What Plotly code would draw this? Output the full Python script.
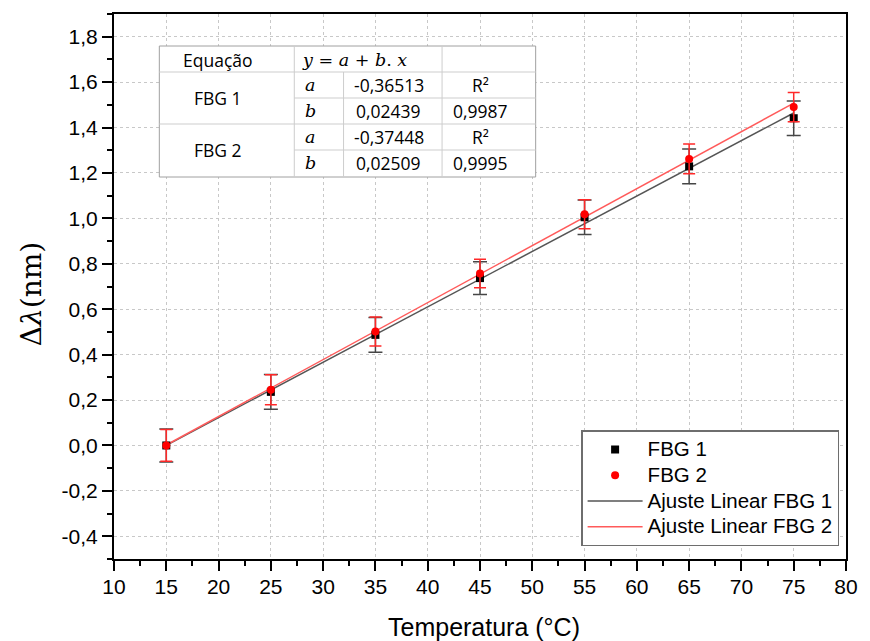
import plotly.graph_objects as go

# Temperature steps (°C)
temperatura = [15, 25, 35, 45, 55, 65, 75]

# Wavelength shift (nm) and uncertainty for each grating
fbg1_dl = [0.000, 0.236, 0.487, 0.737, 1.005, 1.229, 1.441]
fbg1_err = [0.073, 0.077, 0.077, 0.072, 0.076, 0.076, 0.076]
fbg2_dl = [0.000, 0.245, 0.502, 0.757, 1.018, 1.262, 1.490]
fbg2_err = [0.070, 0.066, 0.064, 0.063, 0.064, 0.065, 0.064]

# Linear fit coefficients y = a + b.x and R²
fit_a = {"FBG 1": -0.36513, "FBG 2": -0.37448}
fit_b = {"FBG 1": 0.02439, "FBG 2": 0.02509}
fit_r2 = {"FBG 1": 0.9987, "FBG 2": 0.9995}

x_ticks = list(range(10, 81, 5))
y_ticks = [round(-0.4 + 0.2 * i, 1) for i in range(12)]

W, H = 870, 641
ML, MR, MT, MB = 114, 13, 14, 82
PW, PH = W - ML - MR, H - MT - MB


def px_x(px):
    return (px - ML) / PW


def px_y(py):
    return (H - MB - py) / PH


def fmt(v, nd):
    return f"{v:.{nd}f}".replace(".", ",")


def legend_label(text):
    # larger glyphs than the legend's base font keep rows compact
    return f'<span style="font-size:20.5px">{text}</span>'


fig = go.Figure()

# Fitted lines
for name, color in [("FBG 1", "rgb(85,85,85)"), ("FBG 2", "rgb(255,90,90)")]:
    xs = [temperatura[0], temperatura[-1]]
    ys = [fit_a[name] + fit_b[name] * x for x in xs]
    fig.add_trace(go.Scatter(
        x=xs, y=ys, mode="lines", name=legend_label(f"Ajuste Linear {name}"),
        line=dict(color=color, width=1.5),
        legendrank=3 if name == "FBG 1" else 4,
    ))

# Measured points with error bars
fig.add_trace(go.Scatter(
    x=temperatura, y=fbg1_dl, mode="markers", name=legend_label("FBG 1"),
    marker=dict(symbol="square", size=8, color="black"),
    error_y=dict(type="data", array=fbg1_err, visible=True,
                 color="rgb(70,70,70)", thickness=1.5, width=7),
    legendrank=1,
))
fig.add_trace(go.Scatter(
    x=temperatura, y=fbg2_dl, mode="markers", name=legend_label("FBG 2"),
    marker=dict(symbol="circle", size=8, color="red"),
    error_y=dict(type="data", array=fbg2_err, visible=True,
                 color="rgb(255,40,40)", thickness=1.5, width=6),
    legendrank=2,
))

axis_common = dict(
    showline=True, linecolor="black", linewidth=2, mirror=True,
    ticks="outside", ticklen=10, tickwidth=1.5, tickcolor="black",
    showgrid=True, gridcolor="rgb(200,200,200)", griddash="dot", gridwidth=1,
    zeroline=False,
    tickfont=dict(family="Liberation Sans", size=21, color="black"),
)

fig.update_xaxes(
    range=[10, 80], tickmode="array", tickvals=x_ticks,
    ticktext=[str(v) for v in x_ticks],
    minor=dict(ticks="outside", ticklen=5, tickwidth=1.5, tickcolor="black",
               dtick=2.5, tick0=10, showgrid=False),
    ticklabelstandoff=-2,
    **axis_common,
)
fig.update_yaxes(
    range=[-0.5, 1.9], tickmode="array", tickvals=y_ticks,
    ticktext=[fmt(v, 1) for v in y_ticks],
    minor=dict(ticks="outside", ticklen=5, tickwidth=1.5, tickcolor="black",
               dtick=0.1, tick0=0, showgrid=False),
    **axis_common,
)

# Coefficient table
shapes = []
t_left, t_right, t_top, t_bot = 160, 542, 46, 177
cols = [297, 347, 447]
shapes.append(dict(type="rect", xref="paper", yref="paper",
                   x0=px_x(t_left), x1=px_x(t_right), y0=px_y(t_bot), y1=px_y(t_top),
                   fillcolor="white", line=dict(color="rgb(160,160,160)", width=1),
                   layer="above"))
inner = dict(color="rgb(205,205,205)", width=1)
shapes.append(dict(type="line", xref="paper", yref="paper",
                   x0=px_x(cols[0]), x1=px_x(cols[0]), y0=px_y(t_bot), y1=px_y(t_top), line=inner))
shapes.append(dict(type="line", xref="paper", yref="paper",
                   x0=px_x(cols[1]), x1=px_x(cols[1]), y0=px_y(t_bot), y1=px_y(72), line=inner))
shapes.append(dict(type="line", xref="paper", yref="paper",
                   x0=px_x(cols[2]), x1=px_x(cols[2]), y0=px_y(t_bot), y1=px_y(t_top), line=inner))
for ry, x0 in [(72, t_left), (98, cols[0]), (124, t_left), (150, cols[0])]:
    shapes.append(dict(type="line", xref="paper", yref="paper",
                       x0=px_x(x0), x1=px_x(t_right), y0=px_y(ry), y1=px_y(ry), line=inner))

annotations = []
sans = dict(family="Open Sans", size=17.5, color="black")
serif_it = dict(family="DejaVu Serif", size=17.5, color="black")


def cell(px, py, text, font):
    annotations.append(dict(xref="paper", yref="paper", x=px_x(px), y=px_y(py),
                            text=text, showarrow=False, font=font,
                            xanchor="center", yanchor="middle"))


cell(220, 60, "Equação", sans)
cell(358, 60, "<i>y</i> = <i>a</i> + <i>b</i>. <i>x</i>", serif_it)
rows = [("FBG 1", 85, 111), ("FBG 2", 137, 163)]
for name, ya, yb in rows:
    cell(220, (ya + yb) / 2, name, sans)
    cell(313, ya, "<i>a</i>", serif_it)
    cell(313, yb, "<i>b</i>", serif_it)
    cell(393, ya, fmt(fit_a[name], 5), sans)
    cell(393, yb, fmt(fit_b[name], 5), sans)
    cell(486, ya, "R²", sans)
    cell(486, yb, fmt(fit_r2[name], 4), sans)

# Axis titles
annotations.append(dict(xref="paper", yref="paper", x=px_x(30), y=px_y(294),
                        text="Δ<i>λ</i>(nm)", showarrow=False, textangle=-90,
                        font=dict(family="DejaVu Serif", size=28, color="black"),
                        xanchor="center", yanchor="middle"))
annotations.append(dict(xref="paper", yref="paper", x=px_x(490), y=px_y(627),
                        text="Temperatura (°C)", showarrow=False,
                        font=dict(family="Liberation Sans", size=25, color="black"),
                        xanchor="center", yanchor="middle"))

fig.update_layout(
    width=W, height=H,
    margin=dict(l=ML, r=MR, t=MT, b=MB),
    paper_bgcolor="white", plot_bgcolor="white",
    showlegend=True,
    legend=dict(
        x=px_x(850), y=px_y(430), xanchor="right", yanchor="top",
        bgcolor="white", bordercolor="rgb(110,110,110)", borderwidth=1.5,
        font=dict(family="Liberation Sans", size=17.5, color="black"),
        tracegroupgap=0, itemwidth=55,
    ),
    shapes=shapes,
    annotations=annotations,
)

fig.write_html("out.html")
